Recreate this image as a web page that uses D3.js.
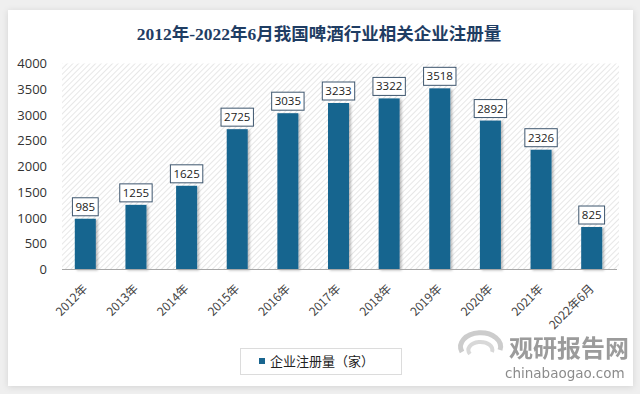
<!DOCTYPE html>
<html><head><meta charset="utf-8">
<script src="https://cdn.jsdelivr.net/npm/d3@7/dist/d3.min.js"></script>
<style>
html,body{margin:0;padding:0;background:#efefef;}
svg{display:block;}
</style></head>
<body>
<svg id="c" width="640" height="394"></svg>
<script>
const categories = ["2012年","2013年","2014年","2015年","2016年","2017年","2018年","2019年","2020年","2021年","2022年6月"];
const values = [985,1255,1625,2725,3035,3233,3322,3518,2892,2326,825];
const yTicks = [0,500,1000,1500,2000,2500,3000,3500,4000];
const title = "2012年-2022年6月我国啤酒行业相关企业注册量";
const legendLabel = "企业注册量（家）";

const svg = d3.select("#c");
const defs = svg.append("defs");
const card = defs.append("filter").attr("id","cardShadow").attr("x","-5%").attr("y","-5%").attr("width","110%").attr("height","110%");
card.append("feDropShadow").attr("dx",0).attr("dy",1).attr("stdDeviation",3).attr("flood-color","#000").attr("flood-opacity",0.12);
const bs = defs.append("filter").attr("id","barShadow").attr("x","-30%").attr("y","-10%").attr("width","160%").attr("height","130%");
bs.append("feDropShadow").attr("dx",2).attr("dy",1).attr("stdDeviation",1.2).attr("flood-color","#000").attr("flood-opacity",0.25);
const pat = defs.append("pattern").attr("id","hatch").attr("patternUnits","userSpaceOnUse")
  .attr("width",4).attr("height",4).attr("patternTransform","rotate(45)");
pat.append("rect").attr("width",4).attr("height",4).attr("fill","#ffffff");
pat.append("line").attr("x1",0).attr("y1",0).attr("x2",0).attr("y2",4).attr("stroke","#e0e0e0").attr("stroke-width",1.5);

svg.append("rect").attr("x",8).attr("y",10).attr("width",625).attr("height",376).attr("fill","#fff").attr("filter","url(#cardShadow)");

const x0 = 60, x1 = 617, yBase = 269.5, yTop = 63.5;
const x = d3.scaleBand().domain(categories).range([x0,x1]).paddingInner(0.585).paddingOuter(0.2925);
const y = d3.scaleLinear().domain([0,4000]).range([yBase,yTop]);

svg.append("text").attr("x",319).attr("y",40).attr("text-anchor","middle")
  .attr("font-family","'Liberation Serif', 'Noto Sans CJK SC', serif").attr("font-weight","bold").attr("font-size",17.5)
  .attr("fill","#1f3d63").text(title);

// plot background hatch
svg.append("rect").attr("x",x0+2).attr("y",y(4000)).attr("width",x1-x0).attr("height",yBase-y(4000)).attr("fill","url(#hatch)");

// y axis
const ya = svg.append("g").attr("transform",`translate(${x0},0)`)
  .call(d3.axisLeft(y).tickValues(yTicks).tickFormat(d3.format("d")).tickSize(0).tickPadding(13));
ya.select(".domain").remove();
ya.selectAll("text").attr("font-family","'Open Sans', 'Noto Sans', sans-serif").attr("font-size",13).attr("fill","#333");

// bars
svg.append("g").selectAll("rect").data(values).join("rect")
  .attr("x",(d,i)=>x(categories[i])).attr("y",d=>y(d))
  .attr("width",x.bandwidth()).attr("height",d=>yBase-y(d))
  .attr("fill","#19658f").attr("filter","url(#barShadow)");

// baseline
svg.append("line").attr("x1",x0+2).attr("x2",x1).attr("y1",yBase).attr("y2",yBase).attr("stroke","#a8a8a8").attr("stroke-width",1);

// x axis labels
const xa = svg.append("g").attr("transform",`translate(0,${yBase})`)
  .call(d3.axisBottom(x).tickSize(0).tickPadding(0));
xa.select(".domain").remove();
xa.selectAll("text").attr("font-family","'Noto Sans CJK SC', sans-serif").attr("font-size",12).attr("fill","#444")
  .attr("text-anchor","end").attr("dy",0)
  .attr("transform","translate(3,20) rotate(-45)");

// value labels
const lab = svg.append("g").selectAll("g").data(values).join("g")
  .attr("transform",(d,i)=>`translate(${x(categories[i])+x.bandwidth()/2},${y(d)-3})`);
lab.each(function(d){
  const g = d3.select(this);
  const t = String(d);
  const w = t.length*6.6+6, h = 18;
  g.append("rect").attr("x",-w/2).attr("y",-h).attr("width",w).attr("height",h)
    .attr("fill","#fff").attr("stroke","#3e566e").attr("stroke-width",1);
  g.append("text").attr("x",0).attr("y",-5).attr("text-anchor","middle")
    .attr("font-family","'Open Sans', 'Noto Sans', sans-serif").attr("font-size",11.5).attr("fill","#222").text(t);
});

// legend
const lg = svg.append("g");
lg.append("rect").attr("x",240.5).attr("y",348.5).attr("width",161).attr("height",26).attr("fill","#fff").attr("stroke","#dcdcdc");
lg.append("rect").attr("x",259).attr("y",358).attr("width",6).attr("height",6).attr("fill","#19658f");
lg.append("text").attr("x",270).attr("y",366).attr("font-family","'Noto Sans CJK SC', sans-serif").attr("font-size",13).attr("fill","#222").text(legendLabel);

// watermark
const wm = svg.append("g").attr("opacity",0.85);
wm.append("path").attr("d","M462,352 A20,14 0 1,1 500,350").attr("fill","none").attr("stroke","#c4c4c4").attr("stroke-width",5);
wm.append("path").attr("d","M470,354 A12,8 0 1,1 492,352").attr("fill","none").attr("stroke","#d2d2d2").attr("stroke-width",4);
wm.append("text").attr("x",509).attr("y",357).attr("font-family","'Noto Sans CJK SC', sans-serif").attr("font-weight","bold").attr("font-size",24).attr("fill","#8a8a8a").text("观研报告网");
wm.append("text").attr("x",505).attr("y",378).attr("font-family","'DejaVu Sans', sans-serif").attr("font-size",13.5).attr("fill","#777").text("chinabaogao.com");
</script>
</body></html>
